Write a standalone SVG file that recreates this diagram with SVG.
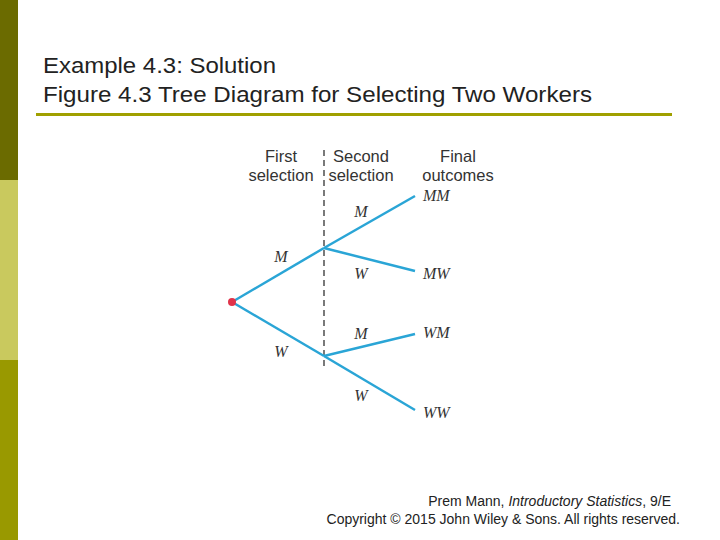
<svg xmlns="http://www.w3.org/2000/svg" width="720" height="540" viewBox="0 0 720 540">
<style>
.t{font-family:"Liberation Sans",Arial,sans-serif;fill:#222}
.h{font-size:22px}
.s{font-size:16.5px;fill:#333}
.i{font-family:"Liberation Serif","Times New Roman",serif;font-style:italic;font-size:16px;fill:#333}
.b{stroke:#2aa5d6;stroke-width:2.5;fill:none}
.f{font-size:14px}
</style>
<rect width="720" height="540" fill="#fff"/>
<rect x="0" y="0" width="18" height="180" fill="#6b6b00"/>
<rect x="0" y="180" width="18" height="180" fill="#c9c95e"/>
<rect x="0" y="360" width="18" height="180" fill="#999900"/>
<text class="t h" x="43" y="73" textLength="233" lengthAdjust="spacingAndGlyphs">Example 4.3: Solution</text>
<text class="t h" x="43" y="102" textLength="549" lengthAdjust="spacingAndGlyphs">Figure 4.3 Tree Diagram for Selecting Two Workers</text>
<line x1="36" y1="114.5" x2="672" y2="114.5" stroke="#a0a000" stroke-width="3"/>
<g id="headers">
<text class="t s" x="281" y="162" text-anchor="middle">First</text>
<text class="t s" x="281" y="181" text-anchor="middle">selection</text>
<text class="t s" x="361" y="162" text-anchor="middle">Second</text>
<text class="t s" x="361" y="181" text-anchor="middle">selection</text>
<text class="t s" x="458" y="162" text-anchor="middle">Final</text>
<text class="t s" x="458" y="181" text-anchor="middle">outcomes</text>
</g>
<line x1="324" y1="150" x2="324" y2="368" stroke="#333" stroke-width="1.3" stroke-dasharray="6,4"/>
<g id="connectors">
<line class="b" x1="232" y1="302" x2="324" y2="248"/>
<line class="b" x1="232" y1="302" x2="324" y2="356"/>
<line class="b" x1="324" y1="248" x2="415" y2="196"/>
<line class="b" x1="324" y1="248" x2="415" y2="271"/>
<line class="b" x1="324" y1="356" x2="415" y2="334"/>
<line class="b" x1="324" y1="356" x2="415" y2="410"/>
</g>
<g id="root"><circle cx="232" cy="302" r="4" fill="#e0334a"/></g>
<g id="labels">
<text class="i" x="281" y="262" text-anchor="middle">M</text>
<text class="i" x="281" y="357" text-anchor="middle">W</text>
<text class="i" x="361" y="217" text-anchor="middle">M</text>
<text class="i" x="361" y="279" text-anchor="middle">W</text>
<text class="i" x="361" y="339" text-anchor="middle">M</text>
<text class="i" x="361" y="401" text-anchor="middle">W</text>
</g>
<g id="outcomes">
<text class="i" x="423" y="201">MM</text>
<text class="i" x="423" y="279">MW</text>
<text class="i" x="423" y="338">WM</text>
<text class="i" x="423" y="418">WW</text>
</g>
<text class="t f" x="671" y="506" text-anchor="end">Prem Mann, <tspan font-style="italic">Introductory Statistics</tspan>, 9/E</text>
<text class="t f" x="680" y="524" text-anchor="end">Copyright © 2015 John Wiley &amp; Sons. All rights reserved.</text>
</svg>
